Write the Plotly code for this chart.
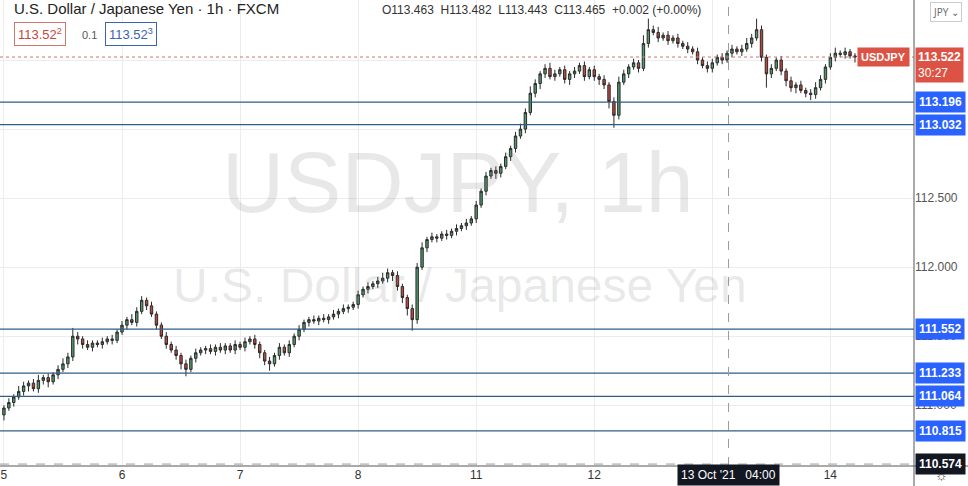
import plotly.graph_objects as go

day_labels = ["5", "6", "7", "8", "11", "12", "13", "14"]
closes = [
    110.98,111.02,111.06,111.10,111.14,111.16,111.12,111.18,111.20,111.17,111.22,111.26,111.30,111.35,111.50,111.48,111.44,111.42,111.45,111.44,111.46,111.48,111.47,111.53,
    111.58,111.62,111.60,111.68,111.76,111.72,111.66,111.58,111.50,111.44,111.40,111.36,111.30,111.26,111.34,111.38,111.40,111.41,111.39,111.42,111.40,111.43,111.40,111.44,
    111.42,111.46,111.48,111.44,111.38,111.32,111.30,111.36,111.42,111.38,111.44,111.50,111.55,111.60,111.62,111.61,111.63,111.62,111.64,111.66,111.68,111.70,111.71,111.73,
    111.80,111.84,111.86,111.88,111.90,111.92,111.96,111.94,111.86,111.78,111.70,111.62,112.00,112.14,112.20,112.22,112.21,112.24,112.23,112.26,112.28,112.30,112.32,112.35,
    112.45,112.55,112.66,112.70,112.68,112.73,112.80,112.86,112.95,113.00,113.12,113.26,113.33,113.40,113.44,113.38,113.40,113.43,113.36,113.40,113.42,113.46,113.38,113.43,
    113.38,113.36,113.32,113.20,113.10,113.34,113.40,113.45,113.48,113.44,113.62,113.72,113.70,113.66,113.68,113.64,113.66,113.62,113.60,113.58,113.56,113.50,113.46,113.44,
    113.48,113.52,113.50,113.55,113.58,113.56,113.58,113.62,113.66,113.72,113.52,113.40,113.44,113.50,113.42,113.35,113.30,113.32,113.28,113.26,113.25,113.30,113.36,113.45,
    113.52,113.55,113.54,113.56,113.53,113.522,
]
first_open = 110.93
# wick sizes in hundredths of a yen
wick_up = [
    2,3,2,4,3,2,3,4,2,3,2,3,4,3,6,3,2,3,2,2,3,2,3,2,
    3,2,4,3,3,2,3,2,2,3,2,3,2,3,2,3,2,2,3,2,3,2,2,3,
    2,3,2,3,2,2,3,2,3,2,3,2,3,2,2,3,2,3,2,3,2,3,2,2,
    3,2,3,2,3,4,3,2,3,2,2,3,3,4,2,3,2,2,3,2,3,2,3,2,
    3,2,3,2,3,2,3,2,3,4,3,5,3,2,3,4,3,2,3,2,3,2,3,2,
    3,2,3,2,3,4,3,2,3,2,6,8,3,4,2,3,2,3,2,3,2,3,2,3,
    3,2,3,2,3,2,3,4,3,8,3,2,3,2,3,2,3,2,3,2,3,4,3,2,
    3,4,2,3,2,2,
]
wick_dn = [
    4,2,3,2,3,4,2,3,3,4,2,3,2,3,3,4,3,2,3,2,3,2,3,2,
    2,3,2,3,2,3,2,3,2,3,2,3,4,5,2,3,2,3,2,3,2,3,2,3,
    2,3,2,3,4,3,5,2,3,2,3,2,3,2,3,2,3,2,3,2,3,2,3,2,
    3,2,3,2,3,2,3,4,3,4,5,8,3,2,3,2,3,2,3,2,3,2,3,2,
    3,2,3,2,4,3,2,3,3,2,3,2,3,4,3,2,3,2,3,4,3,2,3,2,
    3,4,3,5,9,3,2,3,2,3,2,3,2,3,2,3,2,3,2,3,2,3,2,3,
    3,2,3,2,3,2,3,2,3,2,3,10,3,2,3,4,3,4,2,3,4,3,2,3,
    2,3,2,3,2,4,
]
levels = [113.196, 113.032, 111.552, 111.233, 111.064, 110.815]
ytick_vals = [111.0, 111.5, 112.0, 112.5, 113.0, 113.5]
current_price = 113.522
crosshair_price = 110.574
crosshair_idx = 147.3

n = len(closes)
idx = list(range(n))
opens = [first_open] + closes[:-1]
highs = [max(o, c) + u / 100 for o, c, u in zip(opens, closes, wick_up)]
lows = [min(o, c) - d / 100 for o, c, d in zip(opens, closes, wick_dn)]

XD = 914 / 968
YB = 20 / 486
fig = go.Figure(go.Candlestick(
    x=idx, open=opens, high=highs, low=lows, close=closes,
    increasing=dict(fillcolor="#4e9a6a", line=dict(color="#2b2b2b", width=1)),
    decreasing=dict(fillcolor="#c0473c", line=dict(color="#2b2b2b", width=1)),
    whiskerwidth=0, hoverinfo="skip",
))

shapes = []
for lv in levels:
    shapes.append(dict(type="line", xref="paper", x0=0, x1=XD, yref="y", y0=lv, y1=lv,
                       line=dict(color="#2f5d86", width=1.2)))
shapes.append(dict(type="line", xref="paper", x0=0, x1=XD, yref="y", y0=current_price, y1=current_price,
                   line=dict(color="#d0776e", width=1, dash="dot")))
shapes.append(dict(type="line", xref="paper", x0=0, x1=XD, yref="y", y0=crosshair_price, y1=crosshair_price,
                   line=dict(color="#9a9a9a", width=1, dash="dash")))
shapes.append(dict(type="line", xref="x", x0=crosshair_idx, x1=crosshair_idx, yref="paper", y0=YB, y1=1,
                   line=dict(color="#9a9a9a", width=1, dash="dash")))
shapes.append(dict(type="line", xref="paper", x0=XD, x1=XD, yref="paper", y0=0, y1=1,
                   line=dict(color="#555", width=1)))
shapes.append(dict(type="line", xref="paper", x0=0, x1=1, yref="paper", y0=YB, y1=YB,
                   line=dict(color="#555", width=1)))

ann = []
font = "Liberation Sans, sans-serif"
for lv in levels:
    ann.append(dict(xref="paper", x=XD + 0.001, xanchor="left", yref="y", y=lv, yanchor="middle",
                    text=f"<b>{lv:.3f}</b>", showarrow=False, bgcolor="#2962ff",
                    font=dict(color="white", size=12, family=font), borderpad=3))
ann.append(dict(xref="paper", x=XD + 0.001, xanchor="left", yref="y", y=current_price, yanchor="top",
                yshift=10, text="<b>113.522</b><br>30:27", showarrow=False, bgcolor="#dc5345",
                font=dict(color="white", size=12, family=font), borderpad=2, align="left"))
ann.append(dict(xref="paper", x=XD - 0.004, xanchor="right", yref="y", y=current_price, yanchor="middle",
                text="<b>USDJPY</b>", showarrow=False, bgcolor="#dc5345",
                font=dict(color="white", size=11, family=font), borderpad=3))
ann.append(dict(xref="paper", x=XD + 0.001, xanchor="left", yref="y", y=crosshair_price, yanchor="middle",
                text="<b>110.574</b>", showarrow=False, bgcolor="#131722",
                font=dict(color="white", size=12, family=font), borderpad=3))
ann.append(dict(xref="x", x=crosshair_idx, xanchor="center", yref="paper", y=0, yanchor="bottom",
                text="13 Oct '21   04:00", showarrow=False, bgcolor="#131722",
                font=dict(color="white", size=12, family=font), borderpad=3))
ann.append(dict(xref="paper", x=458 / 968, yref="paper", y=1 - 182 / 486, text="USDJPY, 1h", showarrow=False,
                font=dict(size=86, color="rgba(120,120,120,0.17)", family="Liberation Sans"), yanchor="middle"))
ann.append(dict(xref="paper", x=460 / 968, yref="paper", y=1 - 285 / 486, text="U.S. Dollar / Japanese Yen", showarrow=False,
                font=dict(size=48, color="rgba(120,120,120,0.17)", family="Liberation Sans"), yanchor="middle"))
ann.append(dict(xref="paper", x=0.012, xanchor="left", yref="paper", y=1 + 2/486, yanchor="top",
                text="U.S. Dollar / Japanese Yen · 1h · FXCM", showarrow=False,
                font=dict(size=15, color="#222", family="Liberation Sans")))
ann.append(dict(xref="paper", x=380/968, xanchor="left", yref="paper", y=1 - 1/486, yanchor="top",
                text="O113.463  H113.482  L113.443  C113.465  +0.002 (+0.00%)", showarrow=False,
                font=dict(size=12, color="#333", family="Liberation Sans")))
ann.append(dict(xref="paper", x=14/968, xanchor="left", yref="paper", y=1 - 22/486, yanchor="top",
                text="113.52<sup>2</sup>", showarrow=False, bordercolor="#d0776e", borderwidth=1, borderpad=3,
                bgcolor="white", font=dict(size=13, color="#c8453a", family="Liberation Sans")))
ann.append(dict(xref="paper", x=80/968, xanchor="left", yref="paper", y=1 - 27/486, yanchor="top",
                text="0.1", showarrow=False, font=dict(size=11, color="#555", family="Liberation Sans")))
ann.append(dict(xref="paper", x=105/968, xanchor="left", yref="paper", y=1 - 22/486, yanchor="top",
                text="113.52<sup>3</sup>", showarrow=False, bordercolor="#3b63b0", borderwidth=1, borderpad=3,
                bgcolor="white", font=dict(size=13, color="#3b63b0", family="Liberation Sans")))
ann.append(dict(xref="paper", x=0.977, xanchor="center", yref="paper", y=1 - 2/486, yanchor="top",
                text="JPY ⌄", showarrow=False, bordercolor="#ccc", borderwidth=1, borderpad=2,
                font=dict(size=10, color="#666")))
ann.append(dict(xref="paper", x=(XD + 1) / 2, xanchor="center", yref="paper", y=0, yanchor="bottom",
                text="☼", showarrow=False, font=dict(size=14, color="#333")))

fig.update_layout(
    width=968, height=486, margin=dict(l=0, r=0, t=0, b=0, autoexpand=False),
    paper_bgcolor="white", plot_bgcolor="white", showlegend=False,
    shapes=shapes, annotations=ann,
    xaxis=dict(domain=[0, XD], range=[-0.8, 185], rangeslider=dict(visible=False), automargin=False,
               tickvals=[0, 24, 48, 72, 96, 120, 144, 168], ticktext=day_labels,
               showgrid=True, gridcolor="#ececec", zeroline=False, ticks="",
               tickfont=dict(size=12, color="#333", family=font), fixedrange=True),
    yaxis=dict(domain=[YB, 1], range=[110.56, 113.935], side="right", anchor="x", automargin=False,
               tickvals=ytick_vals, ticktext=[f"{v:.3f}" for v in ytick_vals],
               showgrid=True, gridcolor="#ececec", zeroline=False, ticks="",
               tickfont=dict(size=12, color="#555", family=font), fixedrange=True),
)
fig.write_html("out.html", config={"displayModeBar": False},
               post_script="document.body.style.margin='0';document.body.style.overflow='hidden';")
